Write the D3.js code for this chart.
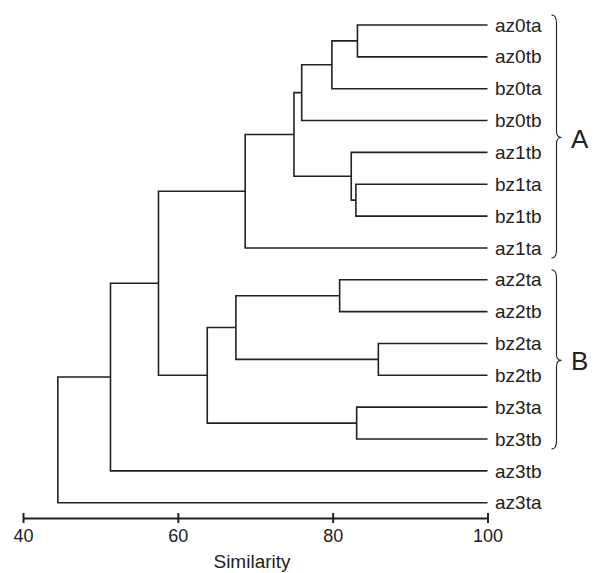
<!DOCTYPE html>
<html>
<head>
<meta charset="utf-8">
<script src="https://cdn.jsdelivr.net/npm/d3@7"></script>
<style>
  body { margin: 0; background: #fff; }
  text { font-family: "Liberation Sans", Arial, sans-serif; fill: #222; }
</style>
</head>
<body>
<script>
// leaf order, top to bottom
const leaves = ["az0ta", "az0tb", "bz0ta", "bz0tb", "az1tb", "bz1ta", "bz1tb", "az1ta",
                "az2ta", "az2tb", "bz2ta", "bz2tb", "bz3ta", "bz3tb", "az3tb", "az3ta"]

// merges: [first child, second child, similarity]; "m#" refers to an earlier merge
const merges = [
    ["az0ta", "az0tb", 83.2],
    ["m0", "bz0ta", 79.9],
    ["m1", "bz0tb", 76.0],
    ["bz1ta", "bz1tb", 83.0],
    ["az1tb", "m3", 82.4],
    ["m2", "m4", 75.0],
    ["m5", "az1ta", 68.7],
    ["az2ta", "az2tb", 80.9],
    ["bz2ta", "bz2tb", 85.9],
    ["m7", "m8", 67.5],
    ["bz3ta", "bz3tb", 83.1],
    ["m9", "m10", 63.8],
    ["m6", "m11", 57.5],
    ["m12", "az3tb", 51.3],
    ["m13", "az3ta", 44.5]
]

const groups = [
    {label: "A", first: "az0ta", last: "az1ta"},
    {label: "B", first: "az2ta", last: "bz3tb"}
]

const xTicks = [40, 60, 80, 100]

const m = { width: 594, height: 573 }

const svg = d3.select("body").append("svg")
    .attr("width", m.width)
    .attr("height", m.height)

const x = d3.scaleLinear().domain([40, 100]).range([23, 487.5])
const y = d3.scalePoint().domain(leaves).range([25, 502.7])

// build the tree
const nodes = {}
leaves.forEach(function(name) { nodes[name] = { name: name, sim: 100 } })
merges.forEach(function(d, i) {
    nodes["m" + i] = { name: "m" + i, sim: d[2], children: [nodes[d[0]], nodes[d[1]]] }
})
const root = d3.hierarchy(nodes["m" + (merges.length - 1)])

root.eachAfter(function(n) {
    n.py = n.children ? d3.mean(n.children, c => c.py) : y(n.data.name)
    n.px = x(n.data.sim)
})

const g = svg.append("g")
    .attr("fill", "none")
    .attr("stroke", "#222")
    .attr("stroke-width", 1.6)

g.selectAll(".link")
    .data(root.descendants().filter(d => d.children))
    .enter()
    .append("path")
        .attr("class", "link")
        .attr("d", function(d) {
            const a = d.children[0], b = d.children[1]
            return "M" + a.px + "," + a.py + "H" + d.px + "V" + b.py + "H" + b.px
        })

svg.selectAll(".leaf")
    .data(leaves)
    .enter()
    .append("text")
        .attr("class", "leaf")
        .attr("x", 495)
        .attr("y", d => y(d))
        .attr("dy", "0.35em")
        .attr("font-size", "19px")
        .text(d => d)

// braces
groups.forEach(function(gr) {
    const top = y(gr.first) - 10, bot = y(gr.last) + 10, mid = (top + bot) / 2 + 1
    const bx = 556.5
    svg.append("path")
        .attr("fill", "none")
        .attr("stroke", "#222")
        .attr("stroke-width", 1.1)
        .attr("d", "M" + (bx - 5) + "," + top +
            "Q" + bx + "," + top + " " + bx + "," + (top + 8) +
            "V" + (mid - 6) +
            "Q" + bx + "," + mid + " " + (bx + 5) + "," + mid +
            "Q" + bx + "," + mid + " " + bx + "," + (mid + 6) +
            "V" + (bot - 8) +
            "Q" + bx + "," + bot + " " + (bx - 5) + "," + bot)
    svg.append("text")
        .attr("x", 571)
        .attr("y", mid + 1)
        .attr("dy", "0.35em")
        .attr("font-size", "26px")
        .text(gr.label)
})

// axis
const axis = svg.append("g")
    .attr("transform", "translate(0,518)")
    .call(d3.axisBottom(x).tickValues(xTicks).tickSize(0).tickPadding(11))

axis.select(".domain").attr("stroke", "#222").attr("stroke-width", 2)
axis.selectAll(".tick text")
    .attr("font-size", "18px")
    .attr("font-family", "Liberation Sans, Arial, sans-serif")
    .attr("fill", "#222")
axis.selectAll(".tick").append("line")
    .attr("y1", -5).attr("y2", 5)
    .attr("stroke", "#222").attr("stroke-width", 2)

svg.append("text")
    .attr("x", 252)
    .attr("y", 568)
    .attr("text-anchor", "middle")
    .attr("font-size", "19px")
    .text("Similarity")
</script>
</body>
</html>
